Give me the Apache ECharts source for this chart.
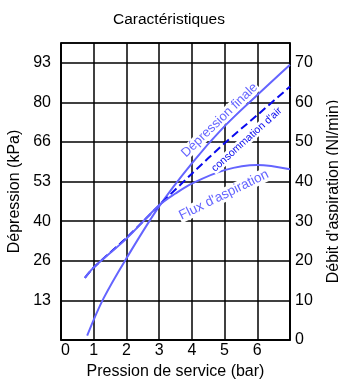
<!DOCTYPE html>
<html>
<head>
<meta charset="utf-8">
<script src="https://cdn.jsdelivr.net/npm/echarts@6/dist/echarts.min.js"></script>
<style>
  html, body { margin: 0; padding: 0; background: #fff; }
  #chart { width: 338px; height: 379px; }
</style>
</head>
<body>
<div id="chart"></div>
<script>
// pressure (bar) vs values
const depressionFinale = [
  [0.8, 1.5], [1.3, 14], [2, 27.5], [3, 45], [4, 59.5], [5, 72], [6, 82.5], [7, 92.7]
]; // kPa, left axis
const consommationAir = [
  [0.73, 15.7], [1, 18.3], [2, 25.8], [3, 34], [4, 42], [5, 49.7], [6, 56.8], [7, 64]
]; // Nl/min, right axis
const fluxAspiration = [
  [0.73, 15.7], [1, 18.3], [2, 25.6], [3, 34], [3.5, 37], [4, 39.5], [5, 42.9], [6, 44.2], [7, 43.1]
]; // Nl/min, right axis

const xTicks = [0, 1, 2, 3, 4, 5, 6];
const leftTickStep = 100 / 7.5; // 13, 26, 40, 53 ... (floored)
const rightTickStep = 10;

const lightBlue = "#6464ff";
const darkBlue = "#0a0aee";
const font = "Liberation Sans, Arial, sans-serif";

// little helper for curve captions, anchored in data coords
function caption(text, coord, rotate, color, size) {
  return {
    symbol: "circle",
    symbolSize: 0,
    silent: true,
    data: [{
      coord: coord,
      label: {
        show: true,
        position: "inside",
        formatter: text,
        rotate: rotate,
        color: color,
        fontSize: size,
        fontFamily: font,
        backgroundColor: "#fff",
        padding: [0, 1],
      },
    }],
  };
}

const chart = echarts.init(document.getElementById("chart"));

chart.setOption({
  animation: false,
  backgroundColor: "#fff",
  title: {
    text: "Caractéristiques",
    left: "center",
    top: 7,
    textStyle: { fontSize: 15.5, fontWeight: "normal", color: "#000", fontFamily: font },
  },
  grid: {
    left: 61,
    right: 48,
    top: 43,
    bottom: 39,
    containLabel: false,
    outerBoundsMode: "none",
    show: true,
    borderColor: "#000",
    borderWidth: 1.5,
  },
  xAxis: {
    type: "value",
    min: 0,
    max: 7,
    interval: 1,
    name: "Pression de service (bar)",
    nameLocation: "middle",
    nameGap: 24,
    nameTextStyle: { fontSize: 16, color: "#000", fontFamily: font },
    axisLine: { lineStyle: { color: "#000", width: 1.5 } },
    axisTick: { show: false },
    axisLabel: {
      color: "#000",
      fontSize: 16,
      fontFamily: font,
      margin: 3,
      alignMinLabel: "left",
      formatter: (v) => (xTicks.includes(v) ? String(v) : ""),
    },
    splitLine: { show: true, lineStyle: { color: "#000", width: 1.5 } },
  },
  yAxis: [
    {
      type: "value",
      position: "left",
      min: 0,
      max: 100,
      interval: leftTickStep,
      name: "Dépression (kPa)",
      nameLocation: "middle",
      nameRotate: 90,
      nameGap: 38,
      nameTextStyle: { fontSize: 16, color: "#000", fontFamily: font },
      axisLine: { show: true, lineStyle: { color: "#000", width: 1.5 } },
      axisTick: { show: false },
      axisLabel: {
        color: "#000",
        fontSize: 16,
        fontFamily: font,
        margin: 10,
        formatter: (v) => (v <= 0.01 || v > 95 ? "" : String(Math.floor(v + 1e-6))),
      },
      splitLine: { show: false },
    },
    {
      type: "value",
      position: "right",
      min: 0,
      max: 75,
      interval: rightTickStep,
      name: "Débit d'aspiration (Nl/min)",
      nameLocation: "middle",
      nameRotate: 90,
      nameGap: 36,
      nameTextStyle: { fontSize: 16, color: "#000", fontFamily: font },
      axisLine: { show: true, lineStyle: { color: "#000", width: 1.5 } },
      axisTick: { show: false },
      axisLabel: {
        color: "#000",
        fontSize: 16,
        fontFamily: font,
        margin: 5,
        formatter: (v) => (v > 71 ? "" : String(v)),
      },
      splitLine: { show: true, lineStyle: { color: "#000", width: 1.5 } },
    },
  ],
  series: [
    {
      name: "Dépression finale",
      type: "line",
      yAxisIndex: 0,
      data: depressionFinale,
      smooth: 0.35,
      showSymbol: false,
      lineStyle: { color: lightBlue, width: 2 },
      markPoint: caption("Dépression finale", [4.85, 74], 44, lightBlue, 13),
    },
    {
      name: "consommation d'air",
      type: "line",
      yAxisIndex: 1,
      data: consommationAir,
      smooth: 0.3,
      showSymbol: false,
      lineStyle: { color: darkBlue, width: 2, type: [8, 4] },
      markPoint: caption("consommation d'air", [5.68, 50.6], 42, darkBlue, 10.5),
    },
    {
      name: "Flux d'aspiration",
      type: "line",
      yAxisIndex: 1,
      data: fluxAspiration,
      smooth: 0.35,
      showSymbol: false,
      lineStyle: { color: lightBlue, width: 2 },
      markPoint: caption("Flux d'aspiration", [4.98, 36.6], 26, lightBlue, 13.5),
    },
  ],
});
</script>
</body>
</html>
